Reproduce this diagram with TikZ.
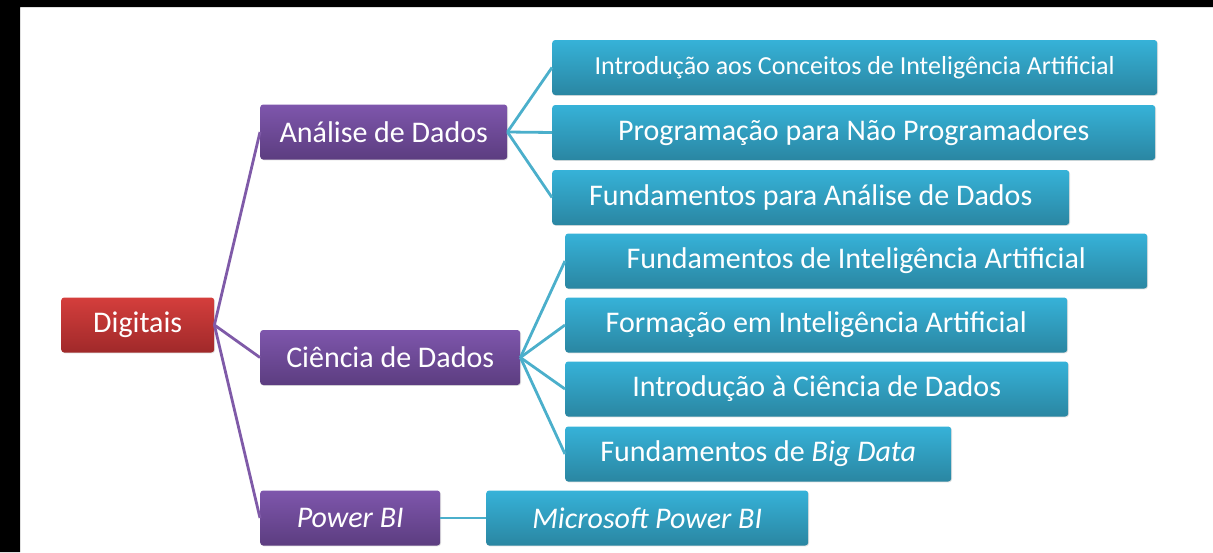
\documentclass[tikz,border=0pt]{standalone}
\usepackage{fontspec}
\setmainfont{Carlito}
\usetikzlibrary{shadows}
\definecolor{vermA}{HTML}{D43E3C}
\definecolor{vermB}{HTML}{A0292A}
\definecolor{roxoA}{HTML}{7E56AC}
\definecolor{roxoB}{HTML}{5C3D80}
\definecolor{azulA}{HTML}{36B2D8}
\definecolor{azulB}{HTML}{2A86A2}
\definecolor{ligaroxo}{HTML}{7F5AA8}
\definecolor{ligaazul}{HTML}{4BAFCB}
\begin{document}
\begin{tikzpicture}[x=1pt,y=-1pt,line join=round,line cap=round,font=\fontsize{30}{36}\selectfont,
	caixa/.style={anchor=west,minimum height=55pt,inner xsep=0pt,rounded corners=3pt,text=white,
		drop shadow={opacity=.25,shadow xshift=.8pt,shadow yshift=-.8pt}},
	raiz/.style={caixa,top color=vermA,bottom color=vermB},
	area/.style={caixa,top color=roxoA,bottom color=roxoB},
	curso/.style={caixa,top color=azulA,bottom color=azulB},
	liga/.style={line width=2.8pt,line cap=butt}]
				\useasboundingbox (0,0) rectangle (1213,552);
				\fill[black] (0,0) rectangle (1213,7) (0,0) rectangle (20,552);
				\node[raiz,minimum width=153pt] (D) at (61,325) {Digitais};
				\node[area,minimum width=247pt] (A) at (260,132) {Análise de Dados};
				\node[area,minimum width=260pt] (C) at (260,357.5) {Ciência de Dados};
				\node[area,minimum width=180pt] (P) at (260,518) {\textit{Power BI}};
				\node[curso,minimum width=322pt] (M) at (486,518) {\textit{Microsoft Power BI}};
				\foreach \n/\y/\w/\t in {A1/67.5/605/{\fontsize{26}{30}\selectfont Introdução aos Conceitos de Inteligência Artificial},
					A2/132.5/603/Programação para Não Programadores,
					A3/197.5/517/Fundamentos para Análise de Dados}
					\node[curso,minimum width=\w pt] (\n) at (552,\y) {\t};
				\foreach \n/\y/\w/\t in {C1/261/582/Fundamentos de Inteligência Artificial,
					C2/325/502/Formação em Inteligência Artificial,
					C3/389/503/Introdução à Ciência de Dados,
					C4/454/386/{Fundamentos de \textit{Big Data}}}
					\node[curso,minimum width=\w pt] (\n) at (565,\y) {\t};
				\foreach \x in {A,C,P}\draw[liga,ligaroxo] (D.east)--(\x.west);
				\foreach \x in {A1,A2,A3}\draw[liga,ligaazul] (A.east)--(\x.west);
				\foreach \x in {C1,C2,C3,C4}\draw[liga,ligaazul] (C.east)--(\x.west);
				\draw[liga,ligaazul] (P)--(M);
			\end{tikzpicture}
\end{document}
